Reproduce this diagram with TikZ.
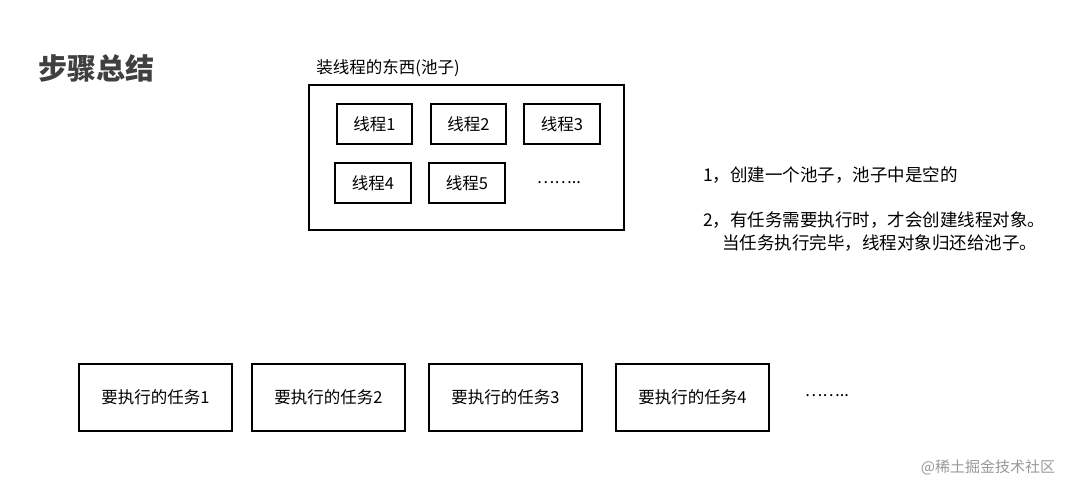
\documentclass[tikz,border=0pt]{standalone}
\usepackage{fontspec}
\setmainfont{Noto Sans CJK SC}
\begin{document}
\begin{tikzpicture}[x=1pt,y=-1pt,
  box/.style={draw,line width=1.2pt,inner sep=0pt},
  f/.style={font=\fontsize{16.5}{20}\selectfont},
  txt/.style={font=\fontsize{17.5}{21}\selectfont,anchor=west,inner sep=0pt}]
\useasboundingbox[fill=white] (0,0) rectangle (1084,492);
\node[font=\fontsize{29}{34}\selectfont\bfseries,text=black!75] (title) at (96,68) {步骤总结};
\node[f] (pooll) at (388,68) {装线程的东西(池子)};
\draw[box] (309,85) rectangle (624,230);
\node[box,f,minimum width=75pt,minimum height=40pt] (t1) at (374.5,124) {线程1};
\node[box,f,minimum width=75pt,minimum height=40pt] (t2) at (468.5,124) {线程2};
\node[box,f,minimum width=76pt,minimum height=40pt] (t3) at (562,124) {线程3};
\node[box,f,minimum width=76pt,minimum height=40pt] (t4) at (373,183) {线程4};
\node[box,f,minimum width=76pt,minimum height=40pt] (t5) at (467,183) {线程5};
\node[f] (dots1) at (559,183) {……..};
\node[txt] (l1) at (703,175) {1，创建一个池子，池子中是空的};
\node[txt] (l2) at (703,220) {2，有任务需要执行时，才会创建线程对象。};
\node[txt] (l3) at (722,243) {当任务执行完毕，线程对象归还给池子。};
\foreach \i/\x in {1/155.5,2/328.5,3/505.5,4/692.5}{
  \node[box,f,minimum width=153pt,minimum height=67pt] (task\i) at (\x,397.5) {要执行的任务\i};
}
\node[f] (dots2) at (827,396) {……..};
\node[font=\fontsize{15}{18}\selectfont,text=black!40] (wm) at (988,467) {@稀土掘金技术社区};
\end{tikzpicture}
\end{document}
